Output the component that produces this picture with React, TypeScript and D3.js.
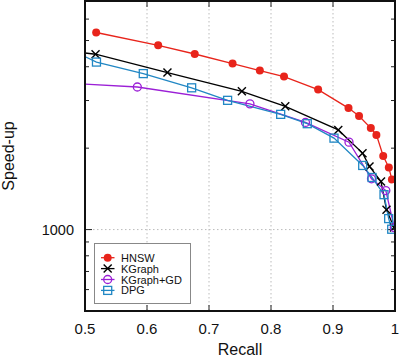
import React from "react";
import * as d3 from "d3";

const W = 399;
const H = 359;
const M = { left: 85, right: 4, top: 1, bottom: 48 };

const hnswRecall = [0.518, 0.618, 0.677, 0.738, 0.782, 0.821, 0.876, 0.925, 0.942, 0.961, 0.970, 0.981, 0.990, 0.995];
const hnswSpeed = [5353, 4802, 4458, 4109, 3870, 3678, 3292, 2813, 2628, 2372, 2239, 1871, 1697, 1532];

const kgraphRecall = [0.45, 0.517, 0.633, 0.753, 0.823, 0.9085, 0.9476, 0.9589, 0.9774, 0.9863, 0.9984];
const kgraphSpeed = [4642, 4449, 3805, 3245, 2855, 2336, 1917, 1712, 1505, 1183, 1017];

const kgdRecall = [0.45, 0.5844, 0.766, 0.8556, 0.9258, 0.9621, 0.9852, 0.9989];
const kgdSpeed = [3501, 3366, 2916, 2490, 2105, 1541, 1394, 1017];

const dpgRecall = [0.48, 0.5185, 0.594, 0.672, 0.730, 0.8156, 0.8585, 0.9016, 0.9479, 0.963, 0.9823, 0.9898, 0.9947];
const dpgSpeed = [4586, 4162, 3773, 3343, 3005, 2667, 2463, 2178, 1726, 1558, 1346, 1098, 1003];

const xTicks = [0.5, 0.6, 0.7, 0.8, 0.9, 1];
const xTickLabels = ["0.5", "0.6", "0.7", "0.8", "0.9", "1"];
const yMinorTicks = [600, 700, 800, 900, 2000, 3000, 4000, 5000, 6000];
const yLabelTick = 1000;

type Series = { name: string; color: string; marker: string; recall: number[]; speed: number[] };
const series: Series[] = [
  { name: "HNSW", color: "#e8241b", marker: "dot", recall: hnswRecall, speed: hnswSpeed },
  { name: "KGraph", color: "#000000", marker: "x", recall: kgraphRecall, speed: kgraphSpeed },
  { name: "KGraph+GD", color: "#9b1fd6", marker: "circle", recall: kgdRecall, speed: kgdSpeed },
  { name: "DPG", color: "#2187c4", marker: "square", recall: dpgRecall, speed: dpgSpeed },
];

function Marker({ type, x, y, color }: { type: string; x: number; y: number; color: string }) {
  if (type === "dot") return <circle cx={x} cy={y} r={4} fill={color} />;
  if (type === "circle") return <circle cx={x} cy={y} r={4} fill="none" stroke={color} strokeWidth={1.3} />;
  if (type === "square") return <rect x={x - 4} y={y - 4} width={8} height={8} fill="none" stroke={color} strokeWidth={1.3} />;
  const s = 4;
  return (
    <g stroke={color} strokeWidth={1.4}>
      <line x1={x - s} y1={y - s} x2={x + s} y2={y + s} />
      <line x1={x - s} y1={y + s} x2={x + s} y2={y - s} />
    </g>
  );
}

export default function App() {
  const x0 = M.left, x1 = W - M.right, y0 = M.top, y1 = H - M.bottom;
  const x = d3.scaleLinear().domain([0.5, 1]).range([x0, x1]);
  const y = d3.scaleLog().domain([500, 7000]).range([y1, y0]);
  const font = "'Liberation Sans', Arial, Helvetica, sans-serif";
  const line = d3.line<[number, number]>().x((d) => x(d[0])).y((d) => y(d[1]));

  return (
    <svg width={W} height={H} style={{ position: "absolute", left: 0, top: 0 }} fontFamily={font}>
      <defs>
        <clipPath id="plot">
          <rect x={x0} y={y0} width={x1 - x0} height={y1 - y0} />
        </clipPath>
      </defs>
      <rect x={0} y={0} width={W} height={H} fill="#fff" />
      {/* grid */}
      {xTicks.slice(1, -1).map((t) => (
        <line key={"gx" + t} x1={x(t)} x2={x(t)} y1={y0} y2={y1} stroke="#bbb" strokeWidth={1} strokeDasharray="1.5,2.5" />
      ))}
      <line x1={x0} x2={x1} y1={y(yLabelTick)} y2={y(yLabelTick)} stroke="#bbb" strokeWidth={1} strokeDasharray="1.5,2.5" />
      {/* ticks */}
      {xTicks.slice(1, -1).map((t) => (
        <g key={"tx" + t} stroke="#222" strokeWidth={1}>
          <line x1={x(t)} x2={x(t)} y1={y1} y2={y1 - 6} />
          <line x1={x(t)} x2={x(t)} y1={y0} y2={y0 + 6} />
        </g>
      ))}
      {yMinorTicks.map((t) => (
        <g key={"ty" + t} stroke="#222" strokeWidth={1}>
          <line x1={x0} x2={x0 + 4} y1={y(t)} y2={y(t)} />
          <line x1={x1} x2={x1 - 4} y1={y(t)} y2={y(t)} />
        </g>
      ))}
      <g stroke="#222" strokeWidth={1}>
        <line x1={x0} x2={x0 + 7} y1={y(yLabelTick)} y2={y(yLabelTick)} />
        <line x1={x1} x2={x1 - 7} y1={y(yLabelTick)} y2={y(yLabelTick)} />
      </g>
      {/* series */}
      <g clipPath="url(#plot)">
        {series.map((s) => (
          <path
            key={s.name}
            d={line(s.recall.map((r, i) => [r, s.speed[i]] as [number, number])) || ""}
            fill="none"
            stroke={s.color}
            strokeWidth={1.3}
          />
        ))}
        {series.map((s) =>
          s.recall.map((r, i) => (
            <Marker key={s.name + i} type={s.marker} x={x(r)} y={y(s.speed[i])} color={s.color} />
          ))
        )}
      </g>
      {/* frame */}
      <rect x={x0} y={y0} width={x1 - x0} height={y1 - y0} fill="none" stroke="#111" strokeWidth={2} />
      {/* tick labels */}
      {xTicks.map((t, i) => (
        <text key={"lx" + t} x={x(t)} y={y1 + 23} fontSize={15} textAnchor="middle" fill="#111">
          {xTickLabels[i]}
        </text>
      ))}
      <text x={x0 - 11} y={y(yLabelTick) + 5} fontSize={14.5} textAnchor="end" fill="#111">
        {String(yLabelTick)}
      </text>
      <text x={(x0 + x1) / 2} y={H - 4} fontSize={16} textAnchor="middle" fill="#111">
        Recall
      </text>
      <text transform={`translate(14,${(y0 + y1) / 2}) rotate(-90)`} fontSize={16} textAnchor="middle" fill="#111">
        Speed-up
      </text>
      {/* legend */}
      <rect x={94.5} y={243.5} width={96} height={60} fill="#fff" stroke="#888" strokeWidth={1} />
      {series.map((s, i) => {
        const ly = 257.7 + i * 10.9;
        return (
          <g key={"lg" + s.name}>
            <line x1={101} x2={114.5} y1={ly} y2={ly} stroke={s.color} strokeWidth={1.3} />
            <Marker type={s.marker} x={107.7} y={ly} color={s.color} />
            <text x={121} y={ly + 4} fontSize={11} fill="#111">
              {s.name}
            </text>
          </g>
        );
      })}
    </svg>
  );
}
